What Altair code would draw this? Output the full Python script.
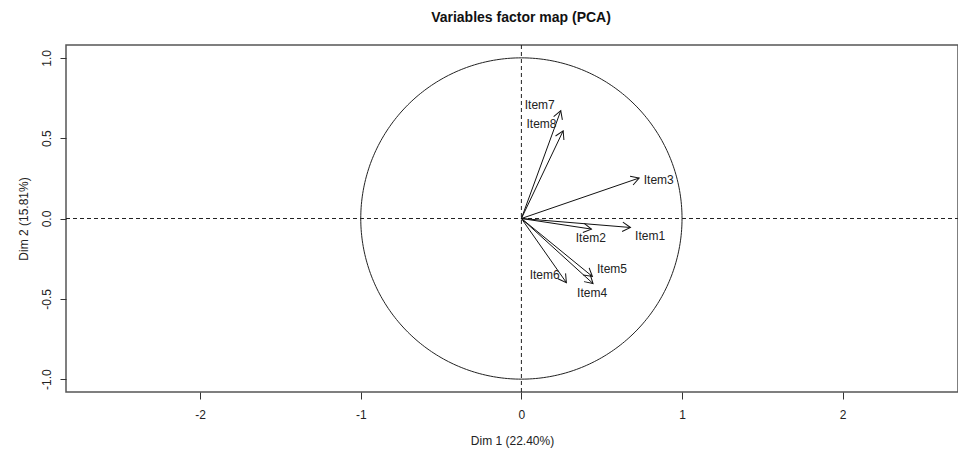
import altair as alt
import numpy as np
import pandas as pd

# --- data ---
items = ["Item1", "Item2", "Item3", "Item4", "Item5", "Item6", "Item7", "Item8"]
dim1 = [0.679, 0.436, 0.733, 0.446, 0.442, 0.280, 0.245, 0.260]
dim2 = [-0.056, -0.066, 0.252, -0.405, -0.361, -0.399, 0.671, 0.546]
label_x = [0.801, 0.432, 0.855, 0.440, 0.564, 0.145, 0.114, 0.125]
label_y = [-0.112, -0.122, 0.241, -0.461, -0.315, -0.353, 0.708, 0.588]
x_ticks = [-2, -1, 0, 1, 2]
y_ticks = [-1.0, -0.5, 0.0, 0.5, 1.0]

XDOM = [-2.835, 2.718]
YDOM = [-1.08, 1.08]
FONT = "Liberation Sans"

df = pd.DataFrame({"item": items, "x": dim1, "y": dim2,
                   "lx": label_x, "ly": label_y})
df["x0"] = 0.0
df["y0"] = 0.0
df["angle"] = (-np.degrees(np.arctan2(df["y"], df["x"]))) % 360

theta = np.linspace(0, 2 * np.pi, 361)
circle = pd.DataFrame({"t": np.arange(len(theta)), "cx": np.cos(theta), "cy": np.sin(theta)})

xs = alt.Scale(domain=XDOM, nice=False, zero=False)
ys = alt.Scale(domain=YDOM, nice=False, zero=False)

xaxis = alt.Axis(values=x_ticks, title="Dim 1 (22.40%)", grid=False, domain=False,
                 tickColor="#333", tickSize=7, labelPadding=10, labelFontSize=12,
                 labelColor="#222", titleFontSize=12, titleFontWeight="normal",
                 titleColor="#222", titlePadding=15, labelFont=FONT, titleFont=FONT,
                 labelExpr="replace(format(datum.value, 'd'), '\u2212', '-')")
yaxis = alt.Axis(values=y_ticks, title="Dim 2 (15.81%)", grid=False, domain=False,
                 tickColor="#333", tickSize=6, labelAngle=270, labelAlign="center",
                 labelBaseline="bottom", labelPadding=7, labelFontSize=12,
                 labelColor="#222", titleFontSize=12, titleFontWeight="normal",
                 titleColor="#222", titlePadding=10, labelFont=FONT, titleFont=FONT,
                 labelExpr="replace(format(datum.value, '.1f'), '\u2212', '-')")

circ = alt.Chart(circle).mark_line(color="#222", strokeWidth=1).encode(
    x=alt.X("cx:Q", scale=xs, axis=xaxis),
    y=alt.Y("cy:Q", scale=ys, axis=yaxis),
    order="t:Q",
)

hline = alt.Chart(pd.DataFrame({"a": [XDOM[0]], "b": [XDOM[1]], "c": [0.0]})).mark_rule(
    color="#222", strokeDash=[4, 3], strokeWidth=1).encode(
    x=alt.X("a:Q", scale=xs), x2="b:Q", y=alt.Y("c:Q", scale=ys))
vline = alt.Chart(pd.DataFrame({"a": [YDOM[0]], "b": [YDOM[1]], "c": [0.0]})).mark_rule(
    color="#222", strokeDash=[4, 3], strokeWidth=1).encode(
    y=alt.Y("a:Q", scale=ys), y2="b:Q", x=alt.X("c:Q", scale=xs))

shafts = alt.Chart(df).mark_rule(color="#111", strokeWidth=1).encode(
    x=alt.X("x0:Q", scale=xs), y=alt.Y("y0:Q", scale=ys), x2="x:Q", y2="y:Q")

heads = alt.Chart(df).mark_point(
    shape="M -1 -0.58 L 0 0 L -1 0.58", filled=False, color="#111",
    strokeWidth=1, size=256, opacity=1).encode(
    x=alt.X("x:Q", scale=xs), y=alt.Y("y:Q", scale=ys),
    angle=alt.Angle("angle:Q", scale=None))

labels = alt.Chart(df).mark_text(font=FONT, fontSize=12, color="#222").encode(
    x=alt.X("lx:Q", scale=xs), y=alt.Y("ly:Q", scale=ys), text="item:N")

chart = alt.layer(circ, hline, vline, shafts, heads, labels).properties(
    width=892, height=347,
    autosize=alt.AutoSizeParams(type="none"),
    padding={"left": 58, "top": 37, "right": 0, "bottom": 58},
    title=alt.TitleParams("Variables factor map (PCA)", font=FONT, fontSize=14,
                          fontWeight="bold", color="#111", anchor="middle",
                          offset=20, dx=9),
).configure_view(stroke="#555", strokeWidth=1.5)

chart.save("out.html", embed_options={"renderer": "svg", "actions": False})
